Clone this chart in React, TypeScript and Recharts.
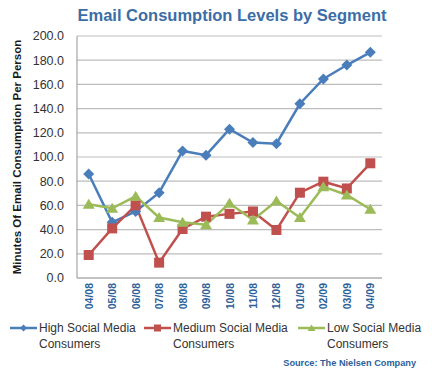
import React from "react";
import { LineChart, Line, XAxis, YAxis, CartesianGrid } from "recharts";

const months = ["04/08", "05/08", "06/08", "07/08", "08/08", "09/08", "10/08", "11/08", "12/08", "01/09", "02/09", "03/09", "04/09"];
const highSocial = [86, 46, 55, 70.5, 105, 101.5, 123, 112, 111, 144, 164.5, 176, 186.5];
const mediumSocial = [19, 41, 60, 12.7, 40.5, 50.7, 53, 55, 39.7, 70.5, 79.6, 74, 94.8];
const lowSocial = [61, 57.6, 67.5, 50, 46, 44, 61.7, 48, 63.6, 50, 75.5, 68.6, 56.8];
const yTicks = [0, 20, 40, 60, 80, 100, 120, 140, 160, 180, 200];

const BLUE = "#4a7ebb";
const RED = "#c0504d";
const GREEN = "#9bbb59";

const data = months.map((m, i) => ({
  month: m,
  high: highSocial[i],
  medium: mediumSocial[i],
  low: lowSocial[i],
}));

const Diamond = (p: any) => {
  const { cx, cy, index } = p;
  return <path key={`h-${index}`} d={`M${cx},${cy - 5.5}L${cx + 5.5},${cy}L${cx},${cy + 5.5}L${cx - 5.5},${cy}Z`} fill={BLUE} />;
};
const Square = (p: any) => {
  const { cx, cy, index } = p;
  return <rect key={`m-${index}`} x={cx - 5} y={cy - 5} width={10} height={10} fill={RED} />;
};
const Triangle = (p: any) => {
  const { cx, cy, index } = p;
  return <path key={`l-${index}`} d={`M${cx},${cy - 5.5}L${cx + 6},${cy + 4.5}L${cx - 6},${cy + 4.5}Z`} fill={GREEN} />;
};

const XTick = (p: any) => {
  const { x, y, payload } = p;
  return (
    <text
      x={x}
      y={y}
      transform={`rotate(-90 ${x} ${y})`}
      textAnchor="end"
      dominantBaseline="central"
      fontFamily="'Liberation Sans', Arial, sans-serif"
      fontWeight="bold"
      fontSize={10.5}
      fill="#2d5f9a"
    >
      {payload.value}
    </text>
  );
};

const font = "'Liberation Sans', Arial, sans-serif";

const LegendItem = ({ left, lineLeft, text1, text2, marker }: any) => (
  <>
    <svg style={{ position: "absolute", left: lineLeft, top: 320 }} width={28} height={16}>
      {marker}
    </svg>
    <div style={{ position: "absolute", left, top: 320, fontFamily: font, fontSize: 12, lineHeight: "16px", color: "#333" }}>
      <div>{text1}</div>
      <div>{text2}</div>
    </div>
  </>
);

export default function App() {
  return (
    <div style={{ position: "absolute", left: 0, top: 0, width: 432, height: 380, background: "#fff", overflow: "hidden" }}>
      <LineChart width={432} height={380} data={data} margin={{ top: 36, right: 50, left: 0, bottom: 0 }}>
        <CartesianGrid vertical={false} stroke="#bdbdbd" strokeWidth={1.2} />
        <XAxis
          dataKey="month"
          height={102}
          interval={0}
          padding={{ left: 11.7, right: 11.7 }}
          tick={<XTick />}
          tickLine={false}
          tickSize={0}
          tickMargin={5}
          axisLine={{ stroke: "#a6a6a6", strokeWidth: 1.2 }}
        />
        <YAxis
          width={77}
          domain={[0, 200]}
          ticks={yTicks}
          interval={0}
          tickFormatter={(v: number) => v.toFixed(1)}
          tickLine={false}
          tickSize={0}
          tickMargin={13}
          axisLine={{ stroke: "#a6a6a6", strokeWidth: 1.2 }}
          tick={{ fontFamily: font, fontSize: 12.5, fill: "#333" }}
        />
        <Line dataKey="high" stroke={BLUE} strokeWidth={2.5} dot={<Diamond />} isAnimationActive={false} />
        <Line dataKey="medium" stroke={RED} strokeWidth={2.5} dot={<Square />} isAnimationActive={false} />
        <Line dataKey="low" stroke={GREEN} strokeWidth={2.5} dot={<Triangle />} isAnimationActive={false} />
      </LineChart>

      <div style={{ position: "absolute", left: 0, width: 464, top: 5, textAlign: "center", fontFamily: font, fontWeight: "bold", fontSize: 16.5, color: "#3b6da6", lineHeight: "20px" }}>
        Email Consumption Levels by Segment
      </div>

      <div
        style={{
          position: "absolute",
          left: 17 - 150,
          top: 157 - 8,
          width: 300,
          height: 16,
          lineHeight: "16px",
          textAlign: "center",
          transform: "rotate(-90deg)",
          fontFamily: font,
          fontWeight: "bold",
          fontSize: 11.5,
          color: "#1a1a1a",
          whiteSpace: "nowrap",
        }}
      >
        Minutes Of Email Consumption Per Person
      </div>

      <LegendItem
        lineLeft={10}
        left={39}
        text1="High Social Media"
        text2="Consumers"
        marker={
          <>
            <line x1={0} y1={8} x2={27} y2={8} stroke={BLUE} strokeWidth={2.5} />
            <path d="M13.5,4.5L17,8L13.5,11.5L10,8Z" fill={BLUE} />
          </>
        }
      />
      <LegendItem
        lineLeft={144}
        left={173}
        text1="Medium Social Media"
        text2="Consumers"
        marker={
          <>
            <line x1={0} y1={8} x2={27} y2={8} stroke={RED} strokeWidth={2.5} />
            <rect x={10} y={4.5} width={7} height={7} fill={RED} />
          </>
        }
      />
      <LegendItem
        lineLeft={298}
        left={327}
        text1="Low Social Media"
        text2="Consumers"
        marker={
          <>
            <line x1={0} y1={8} x2={27} y2={8} stroke={GREEN} strokeWidth={2.5} />
            <path d="M13.5,4.5L17.5,11L9.5,11Z" fill={GREEN} />
          </>
        }
      />

      <div style={{ position: "absolute", right: 16, top: 357, fontFamily: font, fontWeight: "bold", fontSize: 9.2, color: "#2d5f9a", lineHeight: "12px" }}>
        Source: The Nielsen Company
      </div>
    </div>
  );
}
